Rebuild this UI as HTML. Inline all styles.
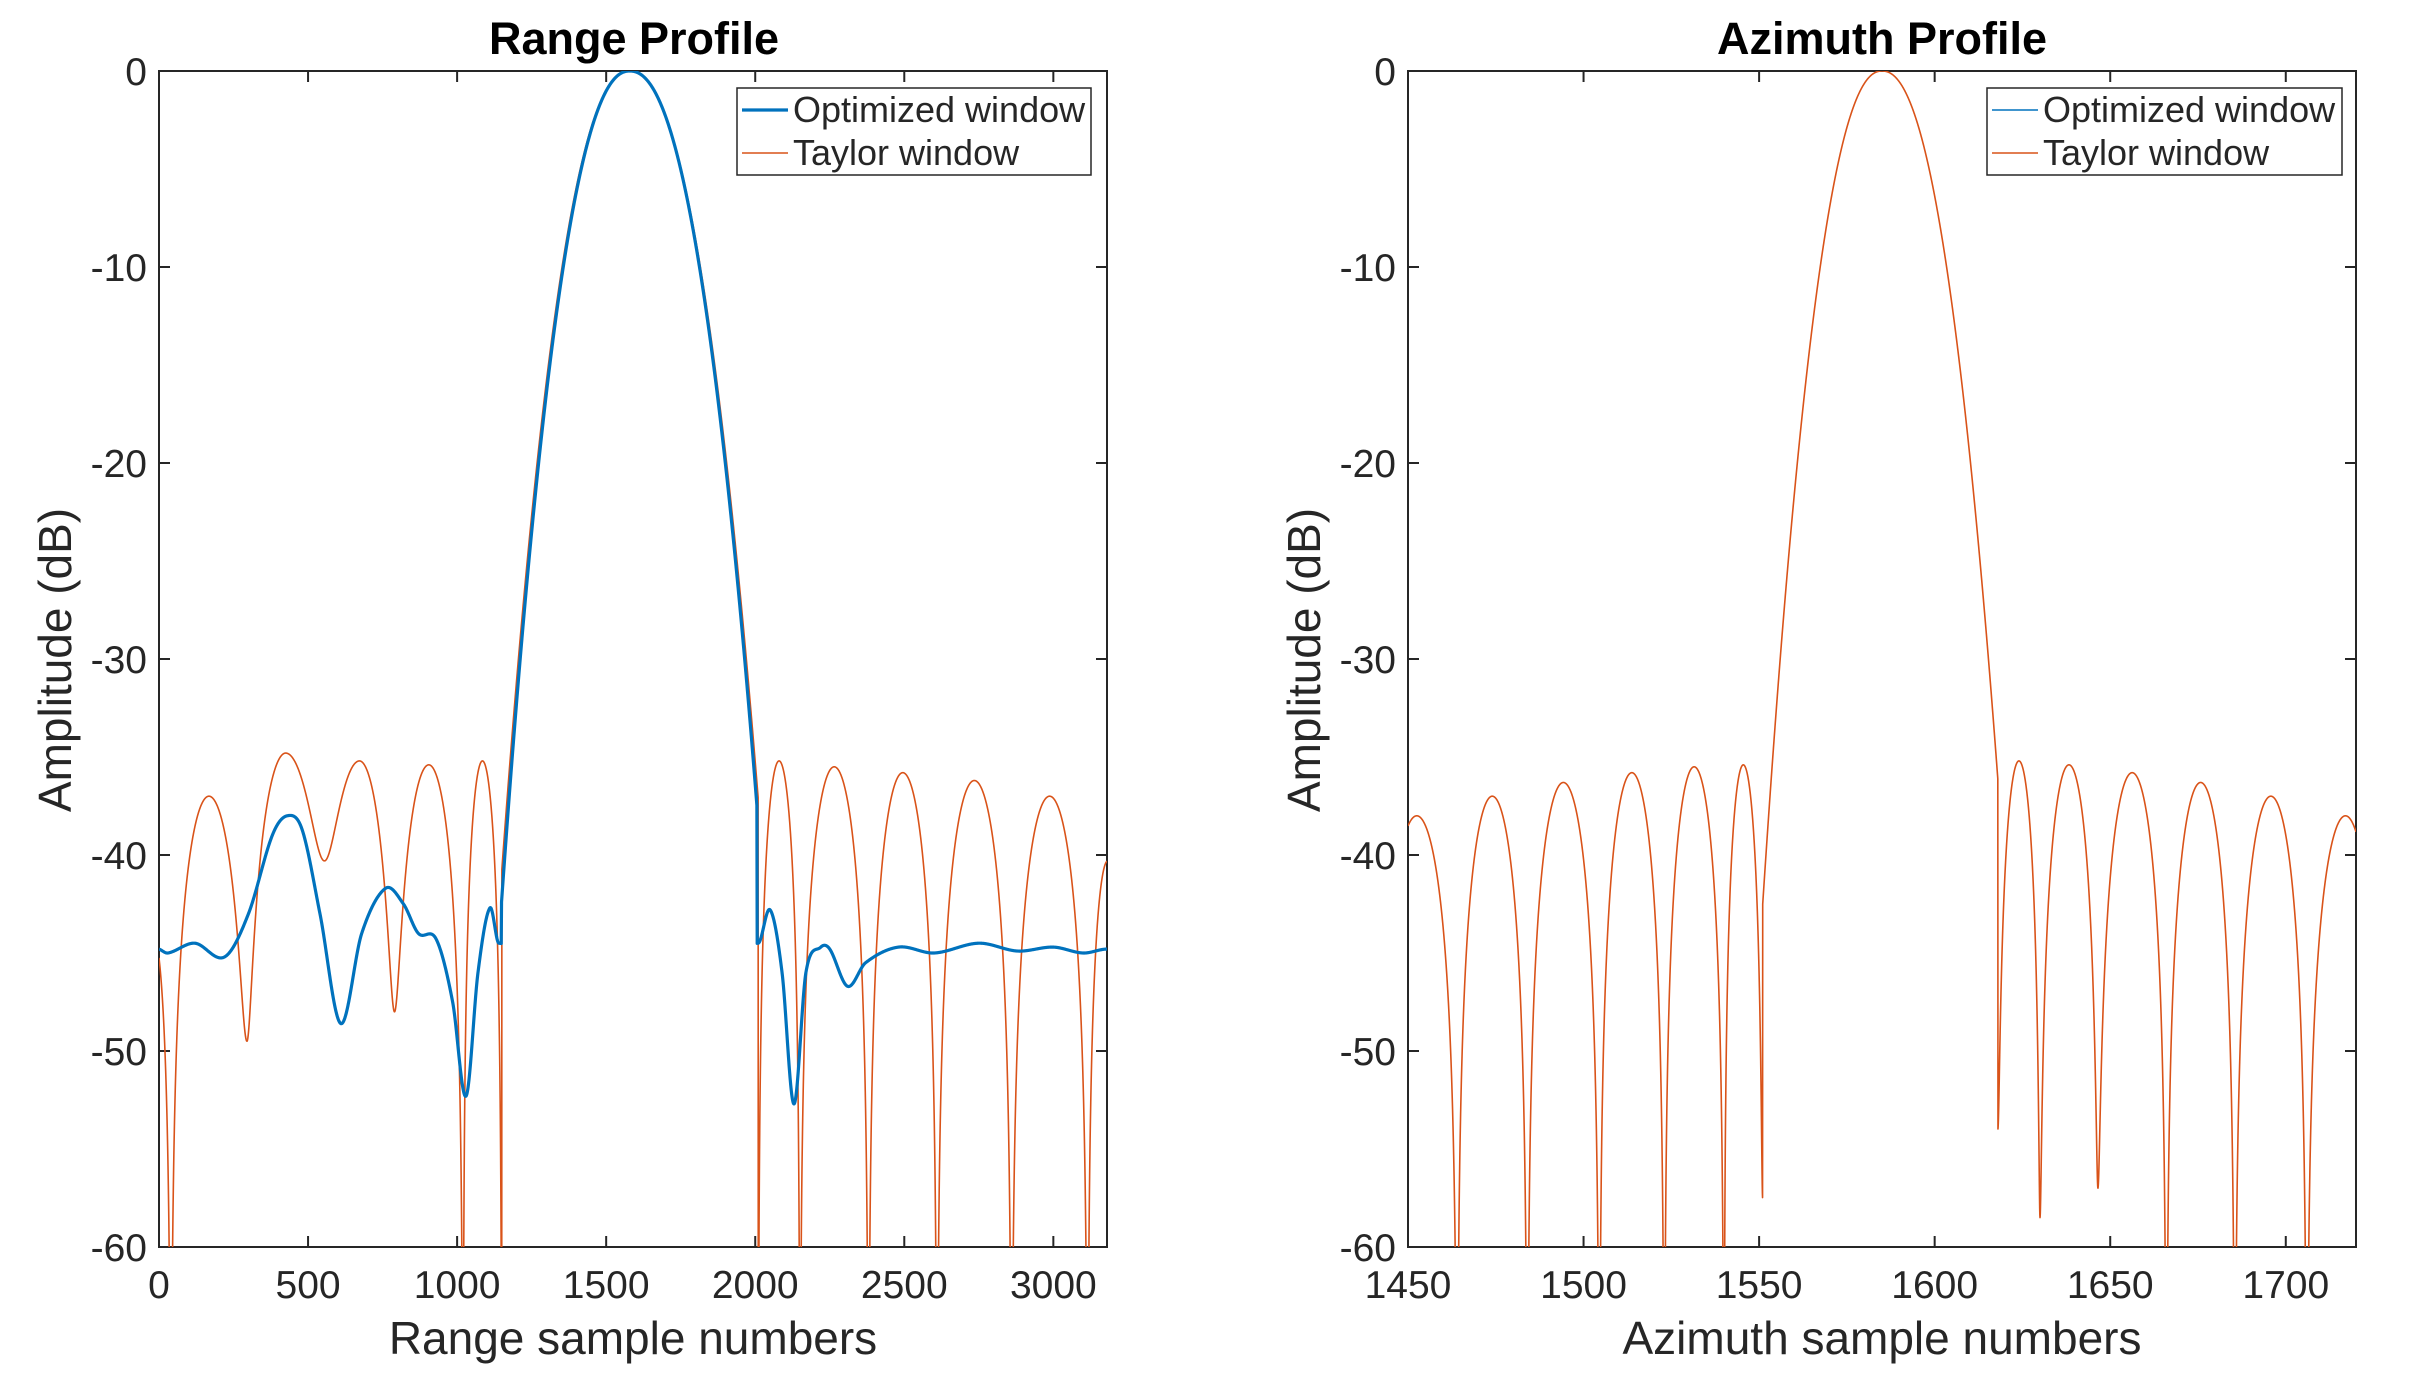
<!DOCTYPE html>
<html><head><meta charset="utf-8">
<style>
html,body{margin:0;padding:0;background:#fff;width:2423px;height:1394px;overflow:hidden;}
svg{display:block;}
text{font-family:"Liberation Sans",Arial,sans-serif;fill:#262626;}
</style></head>
<body>
<svg id="s" width="2423" height="1394" viewBox="0 0 2423 1394" xmlns="http://www.w3.org/2000/svg">
<defs>
<clipPath id="cl"><rect x="159" y="71" width="948" height="1176"/></clipPath>
<clipPath id="cr"><rect x="1408" y="71" width="948" height="1176"/></clipPath>
</defs>
<rect width="2423" height="1394" fill="#fff"/>
<g id="g"></g>
<text x="634" y="54" font-size="45" font-weight="bold" text-anchor="middle" style="fill:#000">Range Profile</text>
<text x="1882" y="54" font-size="45" font-weight="bold" text-anchor="middle" style="fill:#000">Azimuth Profile</text>
<text x="633" y="1354" font-size="46" text-anchor="middle">Range sample numbers</text>
<text x="1882" y="1354" font-size="46" text-anchor="middle">Azimuth sample numbers</text>
<text transform="translate(71,660) rotate(-90)" font-size="46" text-anchor="middle">Amplitude (dB)</text>
<text transform="translate(1320,660) rotate(-90)" font-size="46" text-anchor="middle">Amplitude (dB)</text>
</svg>
<script>
const NS="http://www.w3.org/2000/svg";
const g=document.getElementById('g');
function el(t,a,txt){const e=document.createElementNS(NS,t);for(const k in a)e.setAttribute(k,a[k]);if(txt!==undefined)e.textContent=txt;g.appendChild(e);return e;}
function lobes(x,segs){
 for(const s of segs){if(x>=s[0]&&x<=s[1]){const t=(x-s[0])/(s[1]-s[0]);const sn=Math.sin(Math.PI*t);const f=t<0.5?s[3]:s[4];const e2=Math.pow(10,(f-s[2])/10);return s[2]+10*Math.log10(sn*sn*(1-e2)+e2);}}
 return null;}
function main(x,pk,sl,sr,p){const d=Math.abs(x-pk);const s=x<pk?sl:sr;return -10*Math.pow(d/s,p);}
function spline(pts,x){for(let i=0;i<pts.length-1;i++){const p1=pts[i],p2=pts[i+1];if(x>=p1[0]&&x<=p2[0]){const p0=pts[Math.max(0,i-1)],p3=pts[Math.min(pts.length-1,i+2)];const h=p2[0]-p1[0];const m1=(p2[1]-p0[1])/(p2[0]-p0[0])*h;const m2=(p3[1]-p1[1])/(p3[0]-p1[0])*h;const t=(x-p1[0])/h,t2=t*t,t3=t2*t;return (2*t3-3*t2+1)*p1[1]+(t3-2*t2+t)*m1+(-2*t3+3*t2)*p2[1]+(t3-t2)*m2;}}return pts[pts.length-1][1];}
function path(f,xa,xb,ax,xmin,xmax,n,col,w,clip){let d="";for(let i=0;i<=n;i++){const x=xa+(xb-xa)*i/n;let y=f(x);if(y<-80)y=-80;const px=ax.x0+(x-xmin)/(xmax-xmin)*(ax.x1-ax.x0);const py=ax.y0+(0-y)/60*(ax.y1-ax.y0);d+=(i?"L":"M")+px.toFixed(2)+" "+py.toFixed(2);}el('path',{d:d,fill:'none',stroke:col,'stroke-width':w,'clip-path':'url(#'+clip+')','stroke-linejoin':'round'});}
const OR="#D95319",BL="#0072BD";
function axes(ax,xmin,xmax,xt){
 el('rect',{x:ax.x0,y:ax.y0,width:ax.x1-ax.x0,height:ax.y1-ax.y0,fill:'none',stroke:'#262626','stroke-width':2});
 for(const v of xt){const px=ax.x0+(v-xmin)/(xmax-xmin)*(ax.x1-ax.x0);
  el('line',{x1:px,y1:ax.y1,x2:px,y2:ax.y1-11,stroke:'#262626','stroke-width':2});
  el('line',{x1:px,y1:ax.y0,x2:px,y2:ax.y0+11,stroke:'#262626','stroke-width':2});
  el('text',{x:px,y:1298,'font-size':39,'text-anchor':'middle'},String(v));}
 for(let v=0;v>=-60;v-=10){const py=ax.y0+(-v)/60*(ax.y1-ax.y0);
  el('line',{x1:ax.x0,y1:py,x2:ax.x0+11,y2:py,stroke:'#262626','stroke-width':2});
  el('line',{x1:ax.x1,y1:py,x2:ax.x1-11,y2:py,stroke:'#262626','stroke-width':2});
  el('text',{x:ax.x0-12,y:py+14,'font-size':39,'text-anchor':'end'},String(v));}
}
const L={x0:159,x1:1107,y0:71,y1:1247},R={x0:1408,x1:2356,y0:71,y1:1247};
const lseg=[[-80,40,-44,-75,-75],[40,295,-37,-75,-49.5],[295,555,-34.8,-49.5,-40.3],[555,790,-35.2,-40.3,-48],[790,1020,-35.4,-48,-75],[1020,1150,-35.2,-75,-75],
[2010,2150,-35.2,-75,-75],[2150,2380,-35.5,-75,-75],[2380,2610,-35.8,-75,-75],[2610,2860,-36.2,-75,-75],[2860,3115,-37,-75,-75],[3115,3250,-40.3,-75,-75]];
function lo(x){if(x>1150&&x<2010)return main(x,1578,226,238,2.2);return lobes(x,lseg);}
const bpts=[[-10,-44.8],[0,-44.8],[30,-45],[120,-44.5],[220,-45.2],[300,-43],[380,-39],[430,-38],[480,-38.7],[540,-43],[610,-48.6],[680,-44],[760,-41.7],[820,-42.5],[870,-44],[930,-44.3],[985,-47.5],[1030,-52.3],[1070,-46],[1110,-42.7],[1140,-44.5],
[2010,-44.5],[2050,-42.8],[2090,-46],[2130,-52.7],[2170,-46],[2220,-44.7],[2250,-44.8],[2310,-46.7],[2370,-45.5],[2480,-44.7],[2600,-45],[2750,-44.5],[2880,-44.9],[3000,-44.7],[3100,-45],[3180,-44.8],[3200,-45]];
function bl(x){if(x>1148&&x<2006){const v=main(x,1579,223,234,2.2);return Math.max(v,-44.5);}return spline(bpts,x);}
axes(L,0,3180,[0,500,1000,1500,2000,2500,3000]);
path(lo,0,3180,L,0,3180,6000,OR,1.6,'cl');
path(bl,0,3180,L,0,3180,3000,BL,3.2,'cl');
const rseg=[[1441,1464,-38,-75,-75],[1464,1484,-37,-75,-75],[1484,1504.5,-36.3,-75,-75],[1504.5,1523,-35.8,-75,-75],[1523,1540,-35.5,-75,-75],[1540,1551,-35.4,-75,-57.5],
[1618,1630,-35.2,-54,-58.5],[1630,1646.5,-35.4,-58.5,-57],[1646.5,1666,-35.8,-57,-75],[1666,1685.5,-36.3,-75,-75],[1685.5,1706,-37,-75,-75],[1706,1728,-38,-75,-75]];
function ro(x){if(x>1551&&x<1618)return main(x,1585,17.6,18.4,2.2);return lobes(x,rseg);}
axes(R,1450,1720,[1450,1500,1550,1600,1650,1700]);
path(ro,1450,1720,R,1450,1720,6000,OR,1.6,'cr');
function legend(x0,x1,bw){el('rect',{x:x0,y:88,width:x1-x0,height:87,fill:'#fff',stroke:'#262626','stroke-width':1.5});
 el('line',{x1:x0+5,y1:110,x2:x0+51,y2:110,stroke:BL,'stroke-width':bw});
 el('line',{x1:x0+5,y1:153,x2:x0+51,y2:153,stroke:OR,'stroke-width':1.6});
 el('text',{x:x0+56,y:122,'font-size':36},'Optimized window');
 el('text',{x:x0+56,y:165,'font-size':36},'Taylor window');}
legend(737,1091,3.2);legend(1987,2342,1.6);
</script>
</body></html>
